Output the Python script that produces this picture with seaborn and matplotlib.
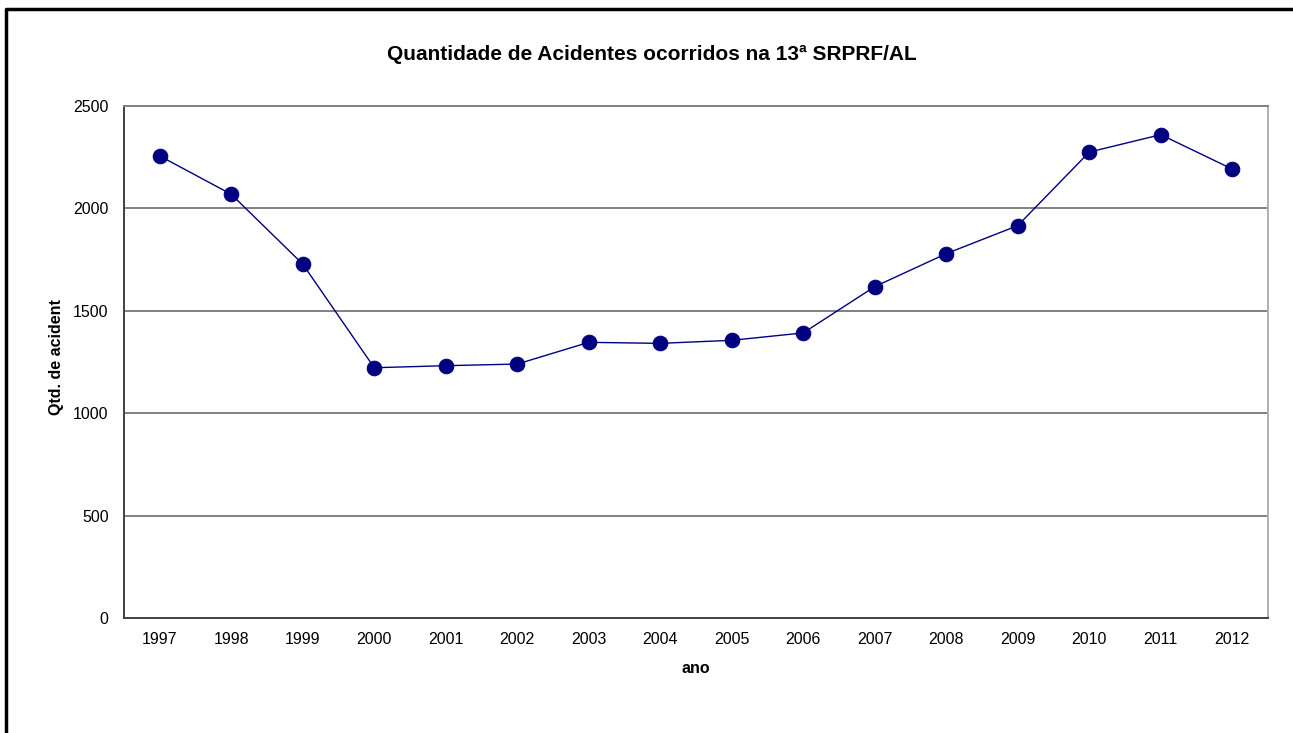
import numpy as np
import pandas as pd
import matplotlib
matplotlib.use('Agg')
import matplotlib.pyplot as plt
import seaborn as sns
from matplotlib.lines import Line2D

# ---------------------------
# Data
# ---------------------------
anos = ['1997', '1998', '1999', '2000', '2001', '2002', '2003', '2004',
        '2005', '2006', '2007', '2008', '2009', '2010', '2011', '2012']
acidentes = [2256, 2069, 1728, 1222, 1232, 1240, 1346, 1341,
             1356, 1392, 1618, 1779, 1916, 2275, 2360, 2192]
y_ticks = [0, 500, 1000, 1500, 2000, 2500]

df = pd.DataFrame({'ano': anos, 'acidentes': acidentes})

# ---------------------------
# Style
# ---------------------------
sns.set_style('white')
plt.rcParams['font.family'] = ['Liberation Sans', 'DejaVu Sans']
plt.rcParams['text.color'] = 'black'
plt.rcParams['axes.labelcolor'] = 'black'

fig = plt.figure(figsize=(12.93, 7.33), dpi=100)
ax = fig.add_axes([124 / 1293, 1 - 618 / 733, (1268 - 124) / 1293, (618 - 106) / 733])

sns.lineplot(data=df, x='ano', y='acidentes', ax=ax, color='#000080',
             linewidth=1.0, marker='o', markersize=10.5,
             markerfacecolor='#000080', markeredgecolor='#000080', zorder=3)

# axes ranges and grid
ax.set_ylim(0, 2500)
ax.set_xlim(-0.5, len(anos) - 0.5)
ax.set_yticks(y_ticks)
ax.set_yticklabels([str(v) for v in y_ticks], fontsize=11.5)
for v in y_ticks[1:-1]:
    ax.axhline(v, color='#808080', linewidth=1.4, zorder=1)

# category labels in the middle, tick marks between categories
ax.set_xticks(np.arange(len(anos)))
ax.set_xticklabels(anos, fontsize=11.5)
ax.set_xticks(np.arange(len(anos) + 1) - 0.5, minor=True)
ax.tick_params(axis='x', which='major', length=0, pad=10, labelcolor='black')
ax.tick_params(axis='x', which='minor', length=5, width=1, color='#404040', direction='out')
ax.tick_params(axis='y', length=5, width=1, color='#404040', direction='out', pad=6,
               labelcolor='black')

ax.spines['left'].set_color('#404040')
ax.spines['bottom'].set_color('#404040')
ax.spines['top'].set_color('#808080')
ax.spines['right'].set_color('#b0b0b0')
for s in ax.spines.values():
    s.set_linewidth(1.4)
    s.set_visible(True)

ax.set_xlabel('ano', fontsize=11.5, fontweight='bold', labelpad=10)
ax.set_ylabel('')

fig.text(57 / 1293, 1 - 357 / 733, 'Qtd. de acident', rotation=90,
         fontsize=11.5, fontweight='bold', ha='center', va='center')
fig.text(652 / 1293, 1 - 54 / 733, 'Quantidade de Acidentes ocorridos na 13ª SRPRF/AL',
         fontsize=15, fontweight='bold', ha='center', va='center')

# outer chart border (only top and left edges show in the crop)
border = Line2D([6 / 1293, 6 / 1293, 1.01], [-0.01, 1 - 9 / 733, 1 - 9 / 733],
                transform=fig.transFigure, color='black', linewidth=2.5)
fig.add_artist(border)

fig.savefig('out.png', dpi=100)
